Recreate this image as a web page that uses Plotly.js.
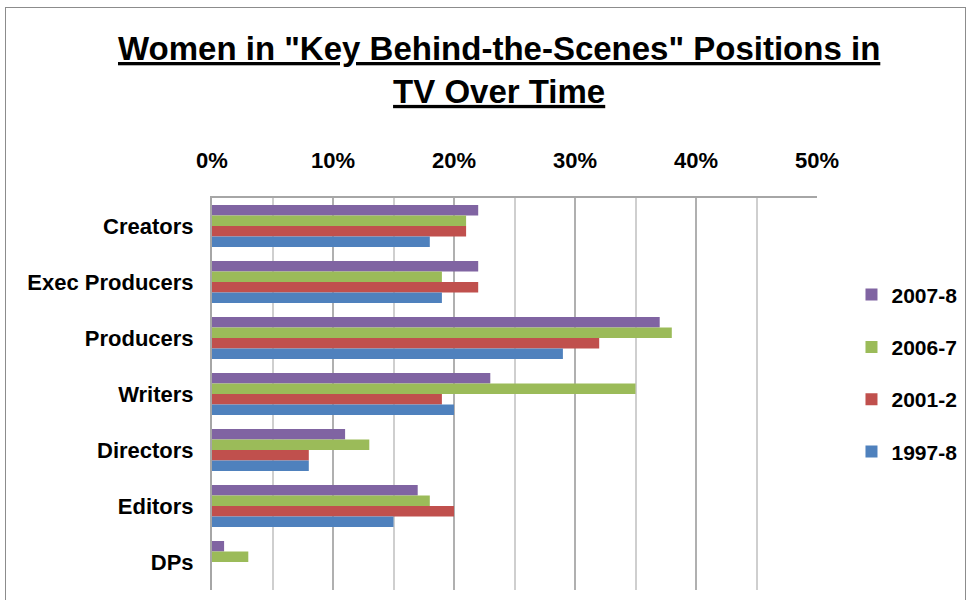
<!DOCTYPE html>
<html>
<head>
<meta charset="utf-8">
<script src="https://cdn.plot.ly/plotly-3.0.1.min.js"></script>
<style>
  html, body { margin: 0; padding: 0; background: #fff; }
  #wrap { position: relative; width: 973px; height: 600px; overflow: hidden; }
  #frame { position: absolute; left: 5px; top: 7px; width: 961px; height: 620px; border: 1px solid #8c8c8c; box-sizing: border-box; }
  #chart { position: absolute; left: 0; top: 0; width: 973px; height: 600px; }
</style>
</head>
<body>
<div id="wrap">
  <div id="frame"></div>
  <div id="chart"></div>
</div>
<script>
const categories = ["Creators", "Exec Producers", "Producers", "Writers", "Directors", "Editors", "DPs"];
const seriesNames = ["2007-8", "2006-7", "2001-2", "1997-8"];
const v2007_8 = [0.22, 0.22, 0.37, 0.23, 0.11, 0.17, 0.01];
const v2006_7 = [0.21, 0.19, 0.38, 0.35, 0.13, 0.18, 0.03];
const v2001_2 = [0.21, 0.22, 0.32, 0.19, 0.08, 0.20, 0.00];
const v1997_8 = [0.18, 0.19, 0.29, 0.20, 0.08, 0.15, 0.00];
const seriesValues = [v2007_8, v2006_7, v2001_2, v1997_8];
const colors = ["#8064A2", "#9BBB59", "#C0504D", "#4F81BD"];

const FONT = "Liberation Sans, Arial, sans-serif";

const traces = seriesNames.map((name, i) => ({
  type: "bar",
  orientation: "h",
  name: name,
  y: categories,
  x: seriesValues[i],
  marker: { color: colors[i] },
  legendgroup: "g" + i,
  hoverinfo: "x+y+name"
}));

const layout = {
  width: 973,
  height: 600,
  paper_bgcolor: "rgba(0,0,0,0)",
  plot_bgcolor: "rgba(0,0,0,0)",
  margin: { l: 212, r: 154, t: 198, b: 10 },
  title: {
    text: 'Women in "Key Behind-the-Scenes" Positions in<br>TV Over Time',
    font: { family: FONT, size: 33, color: "#000", weight: "bold", lineposition: "under" },
    x: 0.513,
    xanchor: "center",
    y: 0.9,
    yanchor: "top",
    yref: "container"
  },
  barmode: "group",
  bargap: 0.25,
  bargroupgap: 0,
  xaxis: {
    side: "top",
    range: [0, 0.5],
    dtick: 0.1,
    tick0: 0,
    tickformat: ".0%",
    tickfont: { family: FONT, size: 22, color: "#000", weight: "bold" },
    ticks: "outside",
    ticklen: 19,
    tickcolor: "rgba(0,0,0,0)",
    showgrid: true,
    gridcolor: "#b0b0b0",
    gridwidth: 1.5,
    minor: { dtick: 0.05, showgrid: true, gridcolor: "#cfcfcf", gridwidth: 1.5 },
    showline: true,
    linecolor: "#a6a6a6",
    linewidth: 2,
    zeroline: false,
    fixedrange: true
  },
  yaxis: {
    autorange: "reversed",
    tickfont: { family: FONT, size: 22, color: "#000", weight: "bold" },
    ticks: "outside",
    ticklen: 12,
    tickcolor: "rgba(0,0,0,0)",
    showline: true,
    linecolor: "#a6a6a6",
    linewidth: 2,
    showgrid: false,
    fixedrange: true
  },
  legend: {
    x: 1.057,
    xanchor: "left",
    y: 0.805,
    yanchor: "top",
    font: { family: FONT, size: 21, color: "#000", weight: "bold" },
    tracegroupgap: 22,
    bgcolor: "rgba(0,0,0,0)"
  },
  showlegend: true
};

Plotly.newPlot("chart", traces, layout, { displayModeBar: false });
</script>
</body>
</html>
